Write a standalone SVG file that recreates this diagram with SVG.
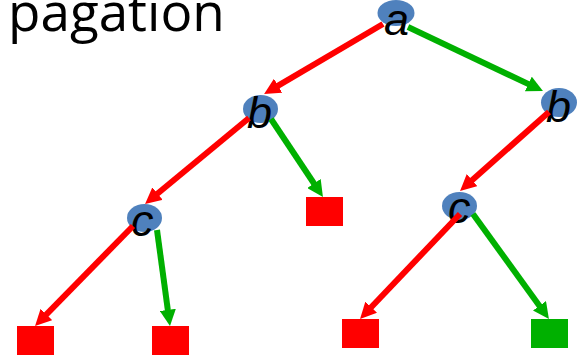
<svg xmlns="http://www.w3.org/2000/svg" width="577" height="357" viewBox="0 0 577 357">
<style>
.title{font-family:"Open Sans","DejaVu Sans",sans-serif;font-size:53px;fill:#000}
.lbl{font-family:"Liberation Sans",Arial,sans-serif;font-style:italic;font-size:45px;fill:#000}
.nd{fill:#4F81BD}
.red{stroke:#FF0000;stroke-width:6;fill:none;marker-end:url(#ahr)}
.grn{stroke:#00B000;stroke-width:6;fill:none;marker-end:url(#ahg)}
.leafr{fill:#FF0000}
.leafg{fill:#00B000}
</style>
<defs>
<marker id="ahr" viewBox="0 0 10 10" refX="4.5" refY="5" markerWidth="2.7" markerHeight="2.7" orient="auto"><path d="M0,0 L10,5 L0,10 z" fill="#FF0000"/></marker>
<marker id="ahg" viewBox="0 0 10 10" refX="4.5" refY="5" markerWidth="2.7" markerHeight="2.7" orient="auto"><path d="M0,0 L10,5 L0,10 z" fill="#00B000"/></marker>
</defs>
<rect width="577" height="357" fill="#fff"/>
<text class="title" x="8" y="31">pagation</text>
<g id="node-a"><ellipse class="nd" cx="396" cy="13" rx="18.5" ry="13"/><text class="lbl" x="384" y="35">a</text></g>
<g id="node-b1"><ellipse class="nd" cx="260.5" cy="109" rx="17.5" ry="14"/><text class="lbl" x="247" y="128">b</text></g>
<g id="node-b2"><ellipse class="nd" cx="559" cy="102.5" rx="18" ry="14.5"/><text class="lbl" x="546" y="122">b</text></g>
<g id="node-c1"><ellipse class="nd" cx="144.5" cy="218" rx="17.5" ry="14"/><text class="lbl" x="131" y="236">c</text></g>
<g id="node-c2"><ellipse class="nd" cx="459.5" cy="206" rx="17.5" ry="14"/><text class="lbl" x="448" y="223">c</text></g>
<g id="leaf-1"><rect class="leafr" x="17" y="326" width="37" height="29"/></g>
<g id="leaf-2"><rect class="leafr" x="152" y="326" width="37" height="29"/></g>
<g id="leaf-3"><rect class="leafr" x="306" y="197" width="37" height="29"/></g>
<g id="leaf-4"><rect class="leafr" x="342" y="319" width="37" height="29"/></g>
<g id="leaf-5"><rect class="leafg" x="531" y="319" width="37" height="29"/></g>
<g id="connectors">
<line class="red" x1="383" y1="24" x2="271.8" y2="89.4"/>
<line class="grn" x1="408" y1="27" x2="534.9" y2="87.1"/>
<line class="red" x1="249" y1="118" x2="151.9" y2="198.3"/>
<line class="grn" x1="271" y1="119" x2="318" y2="189.5"/>
<line class="red" x1="549" y1="112" x2="466.7" y2="185"/>
<line class="red" x1="133" y1="226" x2="41.3" y2="319.6"/>
<line class="grn" x1="157" y1="230" x2="168.8" y2="317.1"/>
<line class="red" x1="460" y1="214" x2="366.2" y2="312.5"/>
<line class="grn" x1="473" y1="214" x2="543.7" y2="311.7"/>
</g>
</svg>
